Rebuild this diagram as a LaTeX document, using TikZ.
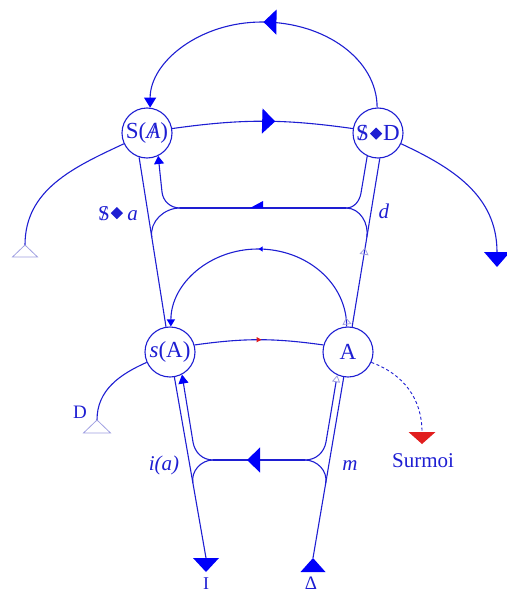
\documentclass[tikz,border=0pt]{standalone}
\usepackage{fontspec}
\setmainfont{Liberation Serif}
\usepackage{graphicx}
\usetikzlibrary{arrows.meta,decorations.markings,calc}
\definecolor{lb}{RGB}{30,30,210}
\definecolor{fb}{RGB}{0,0,250}
\definecolor{hb}{RGB}{160,160,225}
\definecolor{rr}{RGB}{225,30,30}
\newcommand{\barS}{\ooalign{S\cr\hidewidth/\hidewidth\cr}}
\newcommand{\barA}{\ooalign{\textit{A}\cr\hidewidth/\hidewidth\cr}}
\newcommand{\losange}{\kern1pt\raisebox{0.8pt}{\rotatebox{45}{\rule{8.6pt}{8.6pt}}}\kern1pt}
\begin{document}
\begin{tikzpicture}[x=1pt,y=1pt,
  every node/.style={text=lb},
  circ/.style={circle,draw=lb,line width=1.1pt,minimum size=50pt,inner sep=0pt,font=\fontsize{23}{26}\selectfont},
  lbl/.style={font=\fontsize{21}{24}\selectfont,inner sep=0pt,anchor=base},
  ln/.style={draw=lb,line width=1.1pt},
  bigarrow/.style={postaction={decorate,decoration={markings,mark=at position #1 with {\arrow{Triangle[length=13pt,width=25pt,color=fb]}}}}},
  hollowmark/.style={postaction={decorate,decoration={markings,mark=at position #1 with {\arrow{Triangle[open,length=7pt,width=9pt,color=hb,line width=0.8pt]}}}}}
]
\useasboundingbox (0,0) rectangle (506,-594);

% nodes
\node[circ] (SA) at (147,-133) {S(\barA)};
\node[circ] (SD) at (378,-133) {\barS\losange D};
\node[circ] (sA) at (170,-352) {\textit{s}(A)};
\node[circ] (A)  at (348,-352) {A};

% coordinates
\coordinate (mlTop) at (SA.252);
\coordinate (mlBot) at (206,-558);
\coordinate (mrTop) at (SD.274);
\coordinate (mrBot) at (313,-558);
\coordinate (topPeak) at (262,-22);
\coordinate (innerPeak) at (258,-249);
\coordinate (uL) at (180,-208);
\coordinate (uR) at (346,-208);
\coordinate (uLc) at (162,-192);
\coordinate (uRc) at (361,-193);
\coordinate (uArr) at (263,-208);
\coordinate (lL) at (213,-460);
\coordinate (lR) at (305,-460);
\coordinate (lLc) at (193,-442);
\coordinate (lRc) at (326,-442);
\coordinate (jUL) at ($(mlTop)!0.411!(sA.center)$);
\coordinate (jLL) at ($(sA.center)!0.636!(mlBot)$);
\coordinate (jUR) at ($(mrTop)!0.4075!(A.center)$);
\coordinate (jLR) at ($(A.center)!0.636!(mrBot)$);
\coordinate (lEnd) at (25,-245);
\coordinate (rEnd) at (497,-252);
\coordinate (dEnd) at (97,-420);
\coordinate (suEnd) at (422,-432);

% main vertical lines
\draw[ln] (mlTop) -- (sA);
\draw[ln] (sA) -- (mlBot);
\draw[ln,hollowmark=0.47] (A) -- (mrTop);
\draw[ln] (A) -- (mrBot);

% top arc
\draw[ln,bigarrow=0.5,-{Triangle[length=10pt,width=12pt,color=fb]}]
  (SD.92) .. controls +(0,48) and +(63,0) .. (topPeak)
  .. controls +(-62,0) and +(0,46) .. (SA.83);

% upper horizontal
\draw[ln,bigarrow=0.57] (SA.10) to[bend left=8] (SD.170);
\draw[ln] (SA.205) to[out=205,in=90] (lEnd);
\draw[ln] (SD.-25) to[out=-25,in=90] (rEnd);

% upper bracket structure
\draw[ln] (uR) -- (uL);
\fill[fb] (uArr) -- +(0,7) -- +(-13,0) -- cycle;
\draw[ln,-{Triangle[length=8pt,width=10pt,color=fb]}] (uL) to[out=180,in=-84] (uLc) -- (SA.-64);
\draw[ln] (uL) to[out=180,in=99] (jUL);
\draw[ln] (uR) to[out=0,in=-100] (uRc) -- (SD.-115);
\draw[ln] (uR) to[out=0,in=81] (jUR);

% inner arc
\draw[ln,-{Triangle[length=7pt,width=8pt,color=fb]},
  postaction={decorate,decoration={markings,
    mark=at position 9pt with {\arrow{Triangle[open,length=7pt,width=9pt,color=hb,line width=0.8pt]}},
    mark=at position 0.5 with {\arrow{Triangle[length=4pt,width=5pt,color=fb]}}}}]
  (A.93) .. controls +(0,43) and +(49,0) .. (innerPeak)
  .. controls +(-48,0) and +(0,43) .. (sA.88);

% middle horizontal
\draw[ln,postaction={decorate,decoration={markings,mark=at position 0.52 with {\arrow{Triangle[length=5pt,width=5pt,color=rr]}}}}]
  (sA.16) to[bend left=8] (A.164);
\draw[ln] (sA.204) to[out=204,in=90] (dEnd);
\draw[lb,line width=0.9pt,dash pattern=on 3pt off 2.5pt] (A.-24) to[out=-20,in=90] (suEnd);

% lower bracket structure
\draw[ln,bigarrow=0.63] (lR) -- (lL);
\draw[ln,-{Triangle[length=9pt,width=10pt,color=fb]}] (lL) to[out=180,in=-81] (lLc) -- (sA.-62);
\draw[ln] (lL) to[out=180,in=100] (jLL);
\draw[ln,-{Triangle[open,length=7pt,width=8pt,color=hb,line width=0.8pt]}] (lR) to[out=0,in=-100] (lRc) -- (A.-115);
\draw[ln] (lR) to[out=0,in=80] (jLR);

% end triangles
\fill[fb] (mlBot) ++(-13,0) -- ++(26,0) -- ++(-13,-14) -- cycle;
\fill[fb] (mrBot) -- ++(12.5,-14) -- ++(-25,0) -- cycle;
\fill[fb] (rEnd) ++(-13,0) -- ++(26,0) -- ++(-13,-15) -- cycle;
\draw[hb,line width=0.8pt] (lEnd) -- ++(12.5,-12) -- ++(-25,0) -- cycle;
\draw[hb,line width=0.8pt] (dEnd) -- ++(13.5,-13) -- ++(-27,0) -- cycle;
\fill[rr] (suEnd) ++(-13.5,0) -- ++(27,0) -- ++(-13.5,-12) -- cycle;

% labels
\node[lbl] (lSa) at (118,-220) {\barS\losange\,\textit{a}};
\node[lbl] (ld) at (384,-218) {\textit{d}};
\node[lbl] (lia) at (164,-470) {\textit{i(a)}};
\node[lbl] (lm) at (350,-470) {\textit{m}};
\node[lbl,font=\fontsize{19}{22}\selectfont] (lD) at (80,-418) {D};
\node[lbl] (lSu) at (423,-467) {Surmoi};
\node[lbl,font=\fontsize{18}{20}\selectfont] (lI) at (206,-589) {I};
\node[lbl,font=\fontsize{19}{22}\selectfont] (lDelta) at (311,-589) {Δ};
\end{tikzpicture}
\end{document}
